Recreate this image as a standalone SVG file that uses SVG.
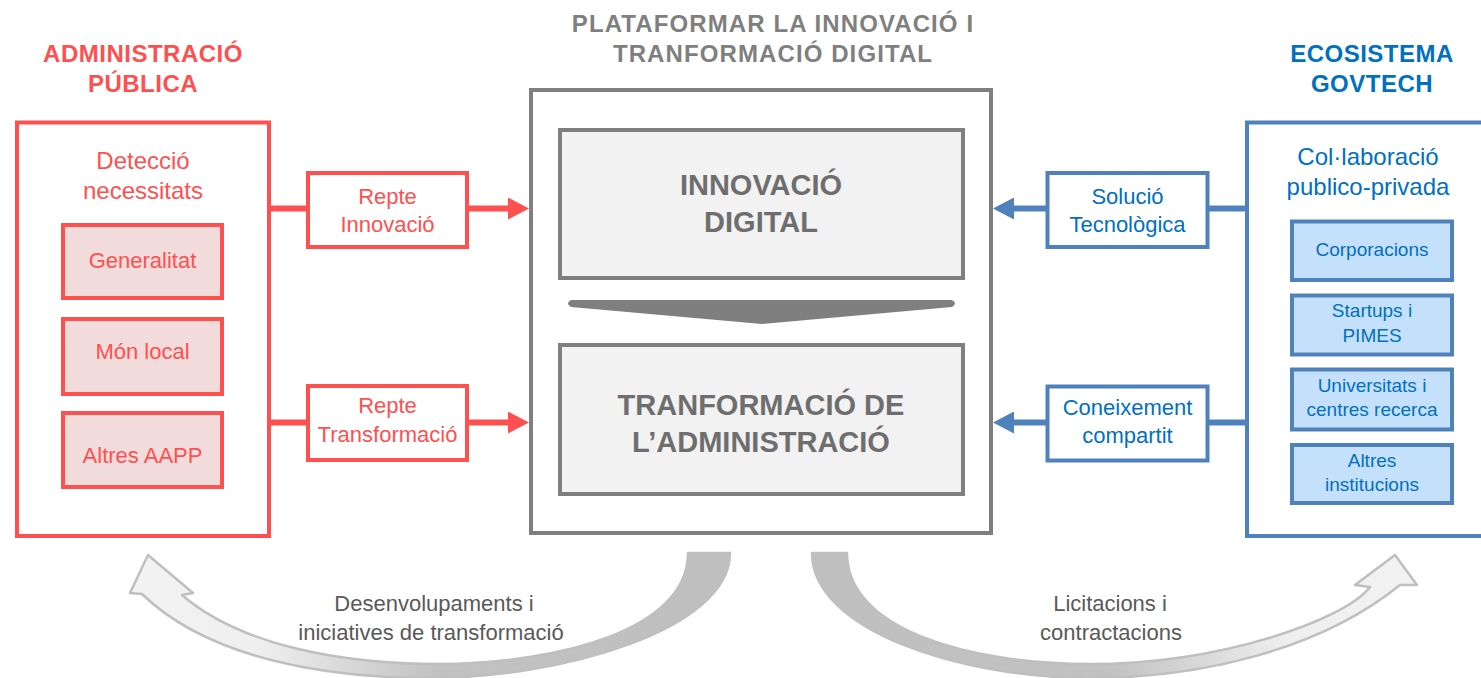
<svg xmlns="http://www.w3.org/2000/svg" width="1481" height="678" viewBox="0 0 1481 678">
<style>
text{font-family:"Liberation Sans",Arial,sans-serif;text-anchor:middle}
.red{fill:#FF5050}
.blue{fill:#0070C0}
.gray{fill:#7F7F7F}
.bt{font-weight:bold;font-size:24px;letter-spacing:0.5px}
.ct{letter-spacing:1.1px}
.big{font-weight:bold;font-size:29px;fill:#6E6E6E}
.rbox{fill:#fff;stroke:#FF5050;stroke-width:4}
.rin{fill:#F2DCDB;stroke:#FF5050;stroke-width:4}
.bbox{fill:#fff;stroke:#4F81BD;stroke-width:4}
.bin{fill:#C5E0FB;stroke:#4F81BD;stroke-width:4}
.gbox{fill:#fff;stroke:#7F7F7F;stroke-width:4}
.gin{fill:#F2F2F2;stroke:#7F7F7F;stroke-width:4}
.t24{font-size:24px}
.t22{font-size:22px}
.t19{font-size:19px}
.bot{font-size:22px;fill:#595959}
.rc{fill:none;stroke:#FF5050;stroke-width:6}
.bc{fill:none;stroke:#4F81BD;stroke-width:6}
.curve{stroke:#BFBFBF;stroke-width:2.5;stroke-linejoin:round}
</style>
<defs>
<marker id="ar" markerUnits="userSpaceOnUse" viewBox="0 0 21 22" refX="0" refY="11" markerWidth="21" markerHeight="22" orient="auto"><path d="M0,0 L21,11 L0,22 Z" fill="#FF5050"/></marker>
<marker id="ab" markerUnits="userSpaceOnUse" viewBox="0 0 21 22" refX="0" refY="11" markerWidth="21" markerHeight="22" orient="auto"><path d="M0,0 L21,11 L0,22 Z" fill="#4F81BD"/></marker>
<linearGradient id="gl" gradientUnits="userSpaceOnUse" x1="730" y1="0" x2="140" y2="0">
<stop offset="0" stop-color="#BFBFBF"/><stop offset="0.5" stop-color="#C2C2C2"/><stop offset="0.8" stop-color="#EFEFEF"/><stop offset="1" stop-color="#F2F2F2"/>
</linearGradient>
<linearGradient id="gr" gradientUnits="userSpaceOnUse" x1="812" y1="0" x2="1410" y2="0">
<stop offset="0" stop-color="#BFBFBF"/><stop offset="0.5" stop-color="#C2C2C2"/><stop offset="0.8" stop-color="#EFEFEF"/><stop offset="1" stop-color="#F2F2F2"/>
</linearGradient>
</defs>
<rect width="1481" height="678" fill="#fff"/>

<g id="connectors">
<path class="rc" d="M270,208.5 H308 M467,208.5 H508" marker-end="url(#ar)"/>
<path class="rc" d="M270,422.5 H308 M467,422.5 H508" marker-end="url(#ar)"/>
<path class="bc" d="M1247,208.5 H1207 M1048,208.5 H1014" marker-end="url(#ab)"/>
<path class="bc" d="M1247,422.5 H1207 M1048,422.5 H1014" marker-end="url(#ab)"/>
<path id="curve-left" class="curve" fill="url(#gl)" d="M730,553 C730,630 560,678 430,678 C330,678 210,660 142,594 L130,593 L148,555 L193,593 L182,595 C240,645 340,664 440,664 C560,663 688,630 688,553 Z"/>
<path id="curve-right" class="curve" fill="url(#gr)" d="M812,553 C812,630 960,678 1090,678 C1200,678 1320,650 1400,585 L1417,585 L1395,555 L1355,585 L1370,587 C1345,620 1220,664 1090,664 C970,664 847,630 847,553 Z"/>
</g>

<g id="admin-publica">
<text class="red bt" x="143" y="62">ADMINISTRACIÓ</text>
<text class="red bt" x="143" y="92">PÚBLICA</text>
<rect class="rbox" x="17" y="122.5" width="252" height="413.5"/>
<text class="red t24" x="143" y="169">Detecció</text>
<text class="red t24" x="143" y="199">necessitats</text>
</g>
<g id="generalitat"><rect class="rin" x="63" y="225" width="159" height="73"/><text class="red t22" x="142.5" y="268">Generalitat</text></g>
<g id="mon-local"><rect class="rin" x="63" y="319" width="159" height="75"/><text class="red t22" x="142.5" y="359">Món local</text></g>
<g id="altres-aapp"><rect class="rin" x="63" y="413" width="159" height="74"/><text class="red t22" x="142.5" y="463">Altres AAPP</text></g>

<g id="repte-innovacio"><rect class="rbox" x="308" y="173" width="159" height="74"/><text class="red t22" x="387.5" y="204">Repte</text><text class="red t22" x="387.5" y="232">Innovació</text></g>
<g id="repte-transformacio"><rect class="rbox" x="308" y="386" width="159" height="74"/><text class="red t22" x="387.5" y="413">Repte</text><text class="red t22" x="387.5" y="442">Transformació</text></g>

<g id="plataforma">
<text class="gray bt ct" x="773" y="32">PLATAFORMAR LA INNOVACIÓ  I</text>
<text class="gray bt ct" x="773" y="62">TRANFORMACIÓ  DIGITAL</text>
<rect class="gbox" x="531" y="90" width="460" height="443"/>
</g>
<g id="innovacio-digital"><rect class="gin" x="560" y="130" width="403" height="148"/><text class="big" x="761" y="195">INNOVACIÓ</text><text class="big" x="761" y="232">DIGITAL</text></g>
<g id="chevron"><path d="M571,300 L952,300 Q958,303.5 952,307 L762,324 L571,307 Q565,303.5 571,300 Z" fill="#7F7F7F"/></g>
<g id="transformacio-admin"><rect class="gin" x="560" y="345" width="403" height="149"/><text class="big" x="761" y="415">TRANFORMACIÓ  DE</text><text class="big" x="761" y="452">L’ADMINISTRACIÓ</text></g>

<g id="ecosistema-govtech">
<text class="blue bt" x="1372" y="62">ECOSISTEMA</text>
<text class="blue bt" x="1372" y="92">GOVTECH</text>
<rect class="bbox" x="1247" y="122.5" width="240" height="413.5"/>
<text class="blue t24" x="1368" y="165">Col·laboració</text>
<text class="blue t24" x="1368" y="195">publico-privada</text>
</g>
<g id="corporacions"><rect class="bin" x="1292" y="221.5" width="160" height="58.5"/><text class="blue t19" x="1372" y="256">Corporacions</text></g>
<g id="startups"><rect class="bin" x="1292" y="295.5" width="160" height="59"/><text class="blue t19" x="1372" y="317">Startups  i</text><text class="blue t19" x="1372" y="342">PIMES</text></g>
<g id="universitats"><rect class="bin" x="1292" y="369.5" width="160" height="60"/><text class="blue t19" x="1372" y="392">Universitats  i</text><text class="blue t19" x="1372" y="416">centres  recerca</text></g>
<g id="altres-institucions"><rect class="bin" x="1292" y="445" width="160" height="58"/><text class="blue t19" x="1372" y="467">Altres</text><text class="blue t19" x="1372" y="491">institucions</text></g>

<g id="solucio-tecnologica"><rect class="bbox" x="1047.5" y="173" width="160" height="74"/><text class="blue t22" x="1127.5" y="204">Solució</text><text class="blue t22" x="1127.5" y="232">Tecnològica</text></g>
<g id="coneixement-compartit"><rect class="bbox" x="1047.5" y="386.5" width="160" height="74"/><text class="blue t22" x="1127.5" y="415">Coneixement</text><text class="blue t22" x="1127.5" y="443">compartit</text></g>

<g id="label-left"><text class="bot" x="434" y="611">Desenvolupaments i</text><text class="bot" x="431" y="640">iniciatives de transformació</text></g>
<g id="label-right"><text class="bot" x="1110" y="611">Licitacions i</text><text class="bot" x="1111" y="640">contractacions</text></g>
</svg>
